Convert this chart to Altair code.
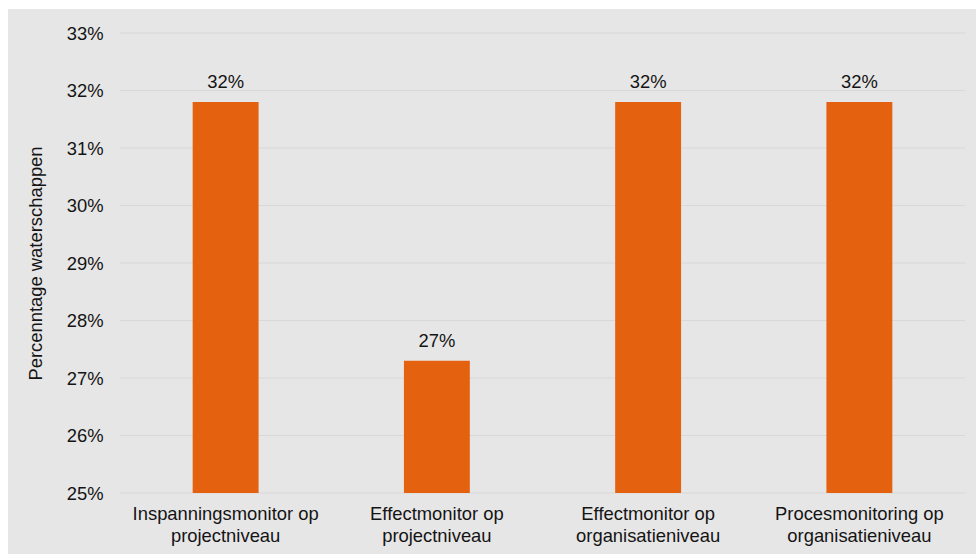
import altair as alt
import pandas as pd

categories = [
    "Inspanningsmonitor op projectniveau",
    "Effectmonitor op projectniveau",
    "Effectmonitor op organisatieniveau",
    "Procesmonitoring op organisatieniveau",
]
values = [0.318, 0.273, 0.318, 0.318]
y_ticks = [0.25, 0.26, 0.27, 0.28, 0.29, 0.30, 0.31, 0.32, 0.33]

W, H = 845, 460
BG = "#e7e6e6"
GRID = "#d8d8d8"
BAR = "#e4610f"
FONT = "Liberation Sans"
TXT = "#141414"
FS = 18.4

df = pd.DataFrame({"cat": categories, "val": values})
ticks_df = pd.DataFrame({"t": y_ticks})

yscale = alt.Scale(domain=[0.25, 0.33], zero=False, nice=False)
xscale = alt.Scale(paddingInner=0.688, paddingOuter=0.344)

label_expr = (
    "[slice(datum.label, 0, indexof(datum.label, ' op ') + 3), "
    "slice(datum.label, indexof(datum.label, ' op ') + 4)]"
)

x_axis = alt.Axis(
    title=None,
    labelAngle=0,
    labelExpr=label_expr,
    labelFont=FONT,
    labelFontSize=FS,
    labelColor=TXT,
    labelLineHeight=22,
    labelBaseline="top",
    labelPadding=11,
    labelLimit=0,
    domain=False,
    ticks=False,
    grid=False,
    zindex=1,
)

y_axis = alt.Axis(
    title="Percenntage waterschappen",
    values=y_ticks,
    format=".0%",
    labelFont=FONT,
    labelFontSize=FS,
    labelColor=TXT,
    labelPadding=17,
    titleFont=FONT,
    titleFontSize=FS,
    titleFontWeight="normal",
    titleColor=TXT,
    titlePadding=21,
    domain=False,
    ticks=False,
    grid=False,
    zindex=1,
)

bg = alt.Chart(alt.Data(values=[{"a": 1}])).mark_rect(color=BG).encode(
    x=alt.value(-112), x2=alt.value(W + 11), y=alt.value(-24), y2=alt.value(H + 61)
)

grid = alt.Chart(ticks_df).mark_rule(color=GRID, strokeWidth=1).encode(
    y=alt.Y("t:Q", scale=yscale, axis=y_axis),
    x=alt.value(0),
    x2=alt.value(W),
)

bars = alt.Chart(df).mark_bar(color=BAR).encode(
    x=alt.X("cat:N", sort=None, scale=xscale, axis=x_axis),
    y=alt.Y("val:Q", scale=yscale, axis=y_axis),
    y2=alt.datum(0.25),
)

labels = alt.Chart(df).mark_text(
    font=FONT, fontSize=FS, color=TXT, baseline="alphabetic", dy=-14
).encode(
    x=alt.X("cat:N", sort=None, scale=xscale, axis=x_axis),
    y=alt.Y("val:Q", scale=yscale, axis=y_axis),
    text=alt.Text("val:Q", format=".0%"),
)

chart = (
    alt.layer(bg, grid, bars, labels)
    .properties(
        width=W,
        height=H,
        autosize=alt.AutoSizeParams(type="none"),
        padding={"left": 120, "top": 33, "right": 11, "bottom": 61},
        background="white",
    )
    .configure_view(stroke=None)
)

chart.save("out.html", embed_options={"renderer": "svg", "actions": False})
